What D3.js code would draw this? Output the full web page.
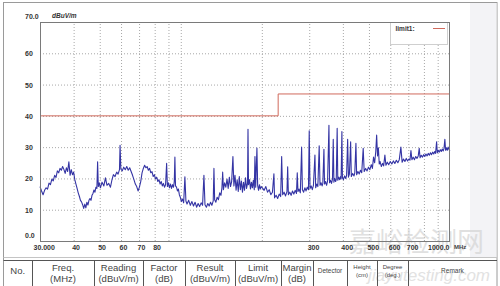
<!DOCTYPE html>
<html><head><meta charset="utf-8">
<script src="https://cdn.jsdelivr.net/npm/d3@7/dist/d3.min.js"></script>
<style>
body{margin:0;background:#fff;}
svg{display:block;font-family:"Liberation Sans",Arial,sans-serif;}
</style>
</head><body>
<svg id="c" width="500" height="286"></svg>
<script>
// ---- data ----
const freqs = [
30,30.4,30.8,31.2,31.6,32.0,32.4,32.8,33.2,33.6,34.0,34.4,34.8,35.2,35.6,36.0,36.4,36.8,37.2,37.6,38.0,38.4,38.8,39.2,39.6,40.0,
40.4,40.8,41.2,41.6,42.0,42.4,42.8,43.2,43.6,44.0,44.4,44.8,45.2,45.6,46.0,46.4,46.8,47.2,47.6,48.0,48.4,48.8,49.1,49.4,49.8,
50.3,51.0,51.8,52.5,53.2,54.0,54.8,55.5,56.2,57.0,57.8,58.5,59.2,59.5,59.9,60.6,61.4,62.2,63.0,63.8,64.6,
65.4,66.2,67.0,67.8,68.6,69.4,70.2,71.0,71.8,72.6,73.4,74.2,75.0,75.8,76.6,77.4,78.2,79.0,79.8,80.6,81.4,82.2,83.0,83.8,84.6,
85.4,86.2,87.0,87.8,88.6,89.2,90.0,90.8,91.6,92.4,93.2,94.0,94.6,95.1,95.6,96.4,97.2,98.0,98.8,99.6,
100.5,101.5,102.5,103.6,104.5,105.5,107,108.5,110,111.5,113,114.5,116,117.5,119,120.5,121.9,123,124.5,126,127.5,129,130.5,132,132.8,133.6,
135,136.5,138,139.5,141,142.2,143.1,144,145.5,147,148.5,150,151.5,153,154.5,156.2,157.5,159,160.5,162,163.5,165,166.5,168,169.5,171,
172.5,174,175.5,177,177.7,178.5,180,181.5,183,184.5,186,187.5,188.6,189.8,191.8,193,194.5,196,197.5,199,
201,204,207,210,213,216,219,221.8,223,226,229,232,235,237,239,242,245,248,249.5,251,254,257,260,263,266,269,270.8,272.5,275,278,281.1,
283,286,289,292,295,298,300,302,305,308,311,315,317,320,323,326.7,329,332,335,337,340.2,342,345,348,351,355.1,357,360,363,366,368.4,
370.5,373,376,378,381,383,386,389,392,394,396.7,398.5,
402,406,410,413,416.7,419.5,423,427.5,430,435,440,443,447.3,450,455,460,465,470,476,480,486,492,498,504,510,515,520,525,530,534,538,542,
546,550,556,562,567,573,578,585,592,600,608,616,624,632,640,648,657,664,672,680,688,696,704,710,716,722,730,738,746,754,762,768.6,774,
782,790,798,806,814,822,830,838,846,854,862,870,878,884,891.6,897,904,912,920,928,936,944,950,957,963,970,977,984,992,1000
];
const levels = [
17.4,16.0,14.8,16.2,17.0,16.6,18.5,18.0,19.8,19.2,21.0,20.3,22.4,21.8,23.2,22.6,23.8,22.9,21.6,23.4,22.2,25.3,21.0,22.8,21.2,22.0,
19.6,18.2,16.8,15.4,14.3,13.0,12.5,11.6,10.4,11.8,10.6,12.4,11.5,13.0,13.6,13.0,14.6,15.2,16.3,15.6,17.2,16.8,25.3,17.4,18.6,
17.0,18.8,17.6,20.2,17.8,18.4,17.2,19.5,21.2,20.6,22.0,21.4,22.8,30.6,23.0,22.4,23.6,22.8,23.8,22.6,23.4,
22.2,21.0,19.6,18.2,17.4,16.0,17.2,19.0,21.8,23.2,24.2,23.4,23.8,22.6,23.2,21.8,22.2,20.6,21.2,19.8,20.4,19.0,19.6,18.2,19.0,
17.6,18.4,17.2,18.0,24.8,17.4,18.6,17.0,18.2,16.8,18.0,17.2,19.0,26.8,17.6,17.2,16.0,16.6,14.8,14.0,
12.6,13.4,12.2,20.5,12.8,11.8,13.0,11.4,12.6,11.2,12.4,10.8,12.0,11.0,12.2,11.4,21.0,11.6,10.8,12.0,11.2,12.4,11.4,12.8,23.2,13.2,
12.4,14.0,13.2,15.4,14.6,17.0,22.0,16.4,18.6,17.2,19.8,16.8,20.4,17.4,19.0,27.0,17.6,21.0,16.2,19.6,15.8,20.6,16.4,19.2,15.6,18.8,
16.2,20.2,16.8,18.4,35.7,18.0,19.6,16.6,18.8,17.0,19.4,16.4,27.0,17.2,29.7,17.8,16.2,18.0,16.6,17.4,
17.0,16.2,17.4,15.6,16.4,14.8,15.6,21.5,13.8,14.6,13.6,15.0,14.2,27.0,14.8,15.6,14.4,15.8,23.7,14.8,15.6,14.6,16.0,15.0,16.2,15.2,21.8,15.8,16.6,15.4,30.0,
16.4,15.6,17.0,16.0,17.2,16.4,35.2,16.8,17.6,16.4,17.8,27.5,17.0,18.2,17.4,30.4,17.8,18.6,17.6,18.4,29.3,18.2,19.0,17.8,19.2,37.0,18.6,19.4,18.4,19.8,32.5,
18.8,20.0,19.0,19.6,36.0,19.4,20.4,19.6,20.6,19.8,35.0,20.2,
19.6,20.8,20.0,21.0,32.5,20.4,21.4,31.7,20.6,21.6,20.8,21.8,31.2,21.2,22.2,21.4,22.6,21.8,29.6,22.2,23.2,22.4,23.6,22.8,24.4,23.2,26.8,25.0,28.6,33.9,27.2,29.8,
24.6,25.4,23.8,24.8,24.0,27.5,24.2,25.2,24.4,25.4,24.6,25.6,24.8,25.8,25.0,26.0,30.0,25.2,26.2,25.4,26.4,25.6,26.2,25.8,28.9,26.0,26.8,26.0,27.0,26.4,27.2,29.6,26.6,
27.4,26.8,27.6,27.0,27.8,27.2,28.0,27.4,28.2,27.6,28.4,27.8,28.6,28.0,31.7,28.2,29.0,28.4,29.2,28.6,29.4,28.8,29.6,32.5,29.0,29.8,29.0,30.0,29.2,28.9
];
const limitFreqs = [30, 230, 230, 1000];
const limitLevels = [40, 40, 47, 47];
const xGridValues = [40,50,60,70,80,90,100,200,300,400,500,600,700,800,900];
const xLabelValues = [30,40,50,60,70,80,300,400,500,600,700,1000];
const yTickValues = [0,10,20,30,40,50,60,70];
const yGridValues = [10,20,30,40,50,60];
const tableHeaders = [["No."],["Freq.","(MHz)"],["Reading","(dBuV/m)"],["Factor","(dB)"],["Result","(dBuV/m)"],["Limit","(dBuV/m)"],["Margin","(dB)"],["Detector"],["Height","(cm)"],["Degree","(deg.)"],["Remark"]];
const legendLabel = "limit1:";
const unitLabel = "dBuV/m";
const xUnit = "MHz";

// ---- drawing ----
const svg = d3.select("#c");
const L = 40, R = 450, T = 22, B = 241;
const x = d3.scaleLog().domain([30,1000]).range([L,R]);
const y = d3.scaleLinear().domain([0,70]).range([B,T]);

// backgrounds
svg.append("rect").attr("x",3.5).attr("y",2.5).attr("width",493.5).attr("height",290).attr("fill","#fff").attr("stroke","#9a9a9a");
svg.append("rect").attr("x",470).attr("y",3).attr("width",26.5).attr("height",254).attr("fill","#f3f3f6");

// grid
const gx = svg.append("g").attr("transform",`translate(0,${B})`)
  .call(d3.axisBottom(x).tickValues(xGridValues).tickSize(-(B-T)).tickFormat(""));
gx.select(".domain").remove();
gx.selectAll("line").attr("stroke","#a8a8a8").attr("stroke-dasharray","1,2");
const gy = svg.append("g").attr("transform",`translate(${L},0)`)
  .call(d3.axisLeft(y).tickValues(yGridValues).tickSize(-(R-L)).tickFormat(""));
gy.select(".domain").remove();
gy.selectAll("line").attr("stroke","#a8a8a8").attr("stroke-dasharray","1,2");

// watermark
svg.append("text").attr("x",349).attr("y",252).attr("font-family","'Noto Sans CJK SC'").attr("font-size",27)
  .attr("fill","#d6d6d6").attr("opacity",0.75).text("嘉峪检测网");

// legend box
svg.append("rect").attr("x",390.5).attr("y",T+0.5).attr("width",57).attr("height",22).attr("fill","#fff").attr("stroke","#cfcfcf");
svg.append("text").attr("x",395.5).attr("y",30.5).attr("font-size",6.5).attr("font-weight","bold").attr("fill","#333").text(legendLabel);
svg.append("line").attr("x1",433).attr("x2",445).attr("y1",28.5).attr("y2",28.5).attr("stroke","#d06a5c");

// limit line
const limitData = limitFreqs.map((f,i)=>[f,limitLevels[i]]);
svg.append("path").datum(limitData).attr("fill","none").attr("stroke","#d06a5c").attr("stroke-width",1)
  .attr("d", d3.line().x(d=>x(d[0])).y(d=>y(d[1])));

// trace
const trace = freqs.map((f,i)=>[f,levels[i]]);
svg.append("path").datum(trace).attr("fill","none").attr("stroke","#3434a4").attr("stroke-width",1.1)
  .attr("stroke-linejoin","round")
  .attr("d", d3.line().x(d=>x(d[0])).y(d=>y(d[1])));

// plot border
svg.append("rect").attr("x",L+0.5).attr("y",T+0.5).attr("width",R-L-1).attr("height",B-T).attr("fill","none").attr("stroke","#7a7a7a");

// y labels
const ay = svg.append("g").attr("transform",`translate(${L},0)`)
  .call(d3.axisLeft(y).tickValues(yTickValues).tickSize(0)
    .tickFormat(d => (d===0||d===70) ? d.toFixed(1) : String(d)));
ay.select(".domain").remove();
ay.selectAll("text").attr("text-anchor","start").attr("x",-15)
  .attr("dy", d => (d===0||d===70) ? "-0.45em" : "0.35em")
  .attr("font-size",7).attr("font-weight","bold").attr("fill","#333").attr("font-family","'Liberation Sans',Arial,sans-serif");
svg.append("text").attr("x",52).attr("y",18).attr("font-size",6.5).attr("font-weight","bold").attr("font-style","italic")
  .attr("fill","#333").text(unitLabel);

// x labels
const ax = svg.append("g").attr("transform",`translate(0,${B})`)
  .call(d3.axisBottom(x).tickValues(xLabelValues).tickSize(0)
    .tickFormat(d => d===30 ? "30.000" : d===1000 ? "1000.0" : String(d)));
ax.select(".domain").remove();
ax.selectAll("text")
  .attr("text-anchor", d => d===1000 ? "end" : "start")
  .attr("dx", d => d===30 ? -7 : d===1000 ? -1 : -2)
  .attr("y",5).attr("dy","0.6em")
  .attr("font-size",7).attr("font-weight","bold").attr("fill","#333").attr("font-family","'Liberation Sans',Arial,sans-serif");
svg.append("text").attr("x",454).attr("y",249).attr("font-size",6).attr("font-weight","bold").attr("fill","#444").text(xUnit);

// table
svg.append("line").attr("x1",3.5).attr("x2",497).attr("y1",257.5).attr("y2",257.5).attr("stroke","#c4c4c4");
svg.append("line").attr("x1",3.5).attr("x2",497).attr("y1",260.5).attr("y2",260.5).attr("stroke","#555");
svg.append("text").attr("x",490).attr("y",281).attr("text-anchor","end").attr("font-size",17).attr("font-style","italic")
  .attr("fill","#e2e2e2").text("jiayutesting.com");
const colEdges = [3.5,32,94,143,185,235,281,313,347,377,408,497];
const colSizes = [9.5,9.5,9.5,9.5,9.5,9.5,9.5,6.5,6,6,6.5];
svg.selectAll(".div").data(colEdges.slice(1,-1)).enter().append("line")
  .attr("x1",d=>Math.round(d)+0.5).attr("x2",d=>Math.round(d)+0.5).attr("y1",260.5).attr("y2",286).attr("stroke","#555");
tableHeaders.forEach((lines,i)=>{
  const cx = (colEdges[i]+colEdges[i+1])/2;
  const fs = colSizes[i];
  const t = svg.append("text").attr("text-anchor","middle").attr("font-size",fs).attr("fill","#444")
    .attr("font-family","'Liberation Sans',Arial,sans-serif");
  if (lines.length===1) {
    t.append("tspan").attr("x",cx).attr("y",273.5 - (fs<8?0.5:0)).text(lines[0]);
  } else if (fs>=8) {
    t.append("tspan").attr("x",cx).attr("y",270.5).text(lines[0]);
    t.append("tspan").attr("x",cx).attr("y",282).text(lines[1]);
  } else {
    t.append("tspan").attr("x",cx).attr("y",268.5).text(lines[0]);
    t.append("tspan").attr("x",cx).attr("y",277).text(lines[1]);
  }
});
</script>
</body></html>
